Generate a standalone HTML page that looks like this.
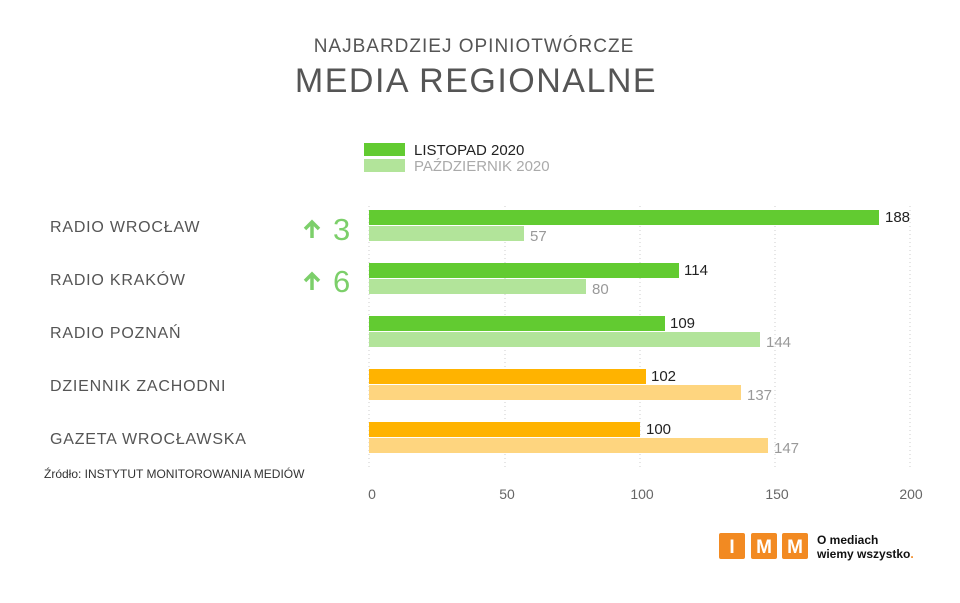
<!DOCTYPE html>
<html><head><meta charset="utf-8"><style>
body{margin:0;width:960px;height:598px;background:#fff;overflow:hidden;font-family:"Liberation Sans",sans-serif}
</style></head><body>
<svg width="960" height="598" xmlns="http://www.w3.org/2000/svg" font-family="Liberation Sans, sans-serif">
<text x="474" y="52" text-anchor="middle" font-size="19" fill="#555" letter-spacing="1">NAJBARDZIEJ OPINIOTWÓRCZE</text>
<text x="476" y="92" text-anchor="middle" font-size="34" fill="#555" letter-spacing="1.5">MEDIA REGIONALNE</text>
<rect x="364" y="143" width="41" height="13" fill="#62cb31"/>
<rect x="364" y="159" width="41" height="13" fill="#b2e49a"/>
<text x="414" y="155" font-size="15" fill="#222">LISTOPAD 2020</text>
<text x="414" y="171" font-size="15" fill="#aaa">PAŹDZIERNIK 2020</text>
<g stroke="#ccc" stroke-dasharray="1,3">
<line x1="369" y1="206" x2="369" y2="470"/><line x1="505" y1="206" x2="505" y2="470"/><line x1="640" y1="206" x2="640" y2="470"/><line x1="775" y1="206" x2="775" y2="470"/><line x1="910" y1="206" x2="910" y2="470"/>
</g>
<g font-size="16" fill="#555" letter-spacing="0.8">
<text x="50" y="232">RADIO WROCŁAW</text>
<text x="50" y="285">RADIO KRAKÓW</text>
<text x="50" y="338">RADIO POZNAŃ</text>
<text x="50" y="391">DZIENNIK ZACHODNI</text>
<text x="50" y="444">GAZETA WROCŁAWSKA</text>
</g>
<g fill="#7ccf6a" font-size="31">
<text x="333" y="240">3</text>
<text x="333" y="292">6</text>
</g>
<g stroke="#7ccf6a" stroke-width="3.5" fill="none">
<path d="M312 238V222M305 229l7-7 7 7"/>
<path d="M312 290V274M305 281l7-7 7 7"/>
</g>
<rect x="369" y="210" width="510" height="15" fill="#62cb31"/>
<rect x="369" y="226" width="155" height="15" fill="#b2e49a"/>
<rect x="369" y="263" width="310" height="15" fill="#62cb31"/>
<rect x="369" y="279" width="217" height="15" fill="#b2e49a"/>
<rect x="369" y="316" width="296" height="15" fill="#62cb31"/>
<rect x="369" y="332" width="391" height="15" fill="#b2e49a"/>
<rect x="369" y="369" width="277" height="15" fill="#ffb300"/>
<rect x="369" y="385" width="372" height="15" fill="#fed57f"/>
<rect x="369" y="422" width="271" height="15" fill="#ffb300"/>
<rect x="369" y="438" width="399" height="15" fill="#fed57f"/>
<g font-size="15" fill="#222">
<text x="885" y="222">188</text><text x="684" y="275">114</text><text x="670" y="328">109</text><text x="651" y="381">102</text><text x="646" y="434">100</text>
</g>
<g font-size="15" fill="#999">
<text x="530" y="241">57</text><text x="592" y="294">80</text><text x="766" y="347">144</text><text x="747" y="400">137</text><text x="774" y="453">147</text>
</g>
<text x="44" y="478" font-size="12" fill="#333">Źródło: INSTYTUT MONITOROWANIA MEDIÓW</text>
<g font-size="14" fill="#666" text-anchor="middle">
<text x="372" y="499">0</text><text x="507" y="499">50</text><text x="642" y="499">100</text><text x="777" y="499">150</text><text x="911" y="499">200</text>
</g>
<g fill="#f28a22">
<rect x="719" y="533" width="26" height="26" rx="2"/><rect x="751" y="533" width="26" height="26" rx="2"/><rect x="782" y="533" width="26" height="26" rx="2"/>
</g>
<g fill="#fff" font-size="19" font-weight="bold" text-anchor="middle">
<text x="732" y="553">I</text><text x="764" y="553">M</text><text x="795" y="553">M</text>
</g>
<text x="817" y="544" font-size="12" font-weight="bold" fill="#111">O mediach</text>
<text x="817" y="558" font-size="12" font-weight="bold" fill="#111">wiemy wszystko<tspan fill="#f28a22">.</tspan></text>
</svg>
</body></html>
